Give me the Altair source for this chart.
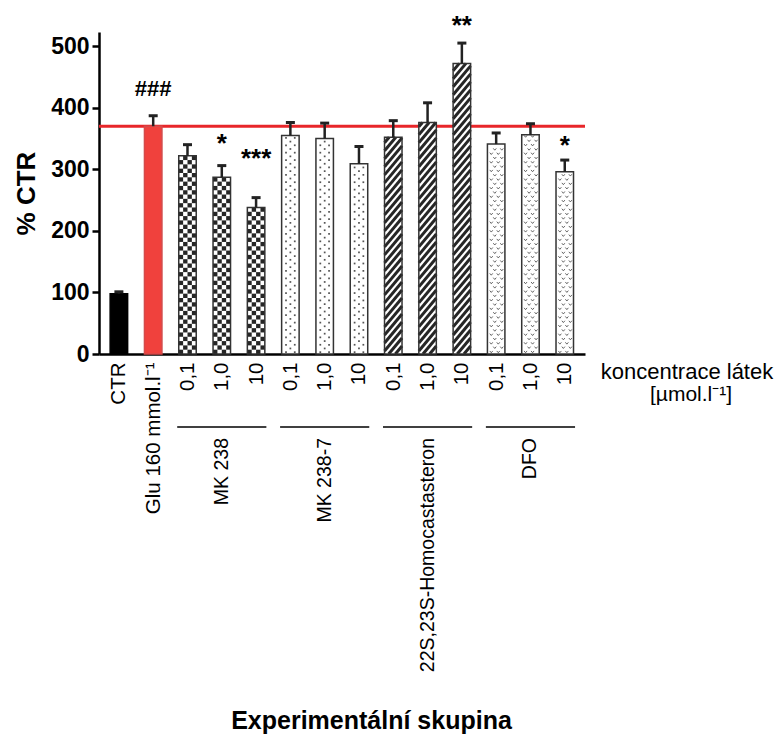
import altair as alt
import pandas as pd
import numpy as np

# ---------------- data ----------------
positions = list(range(14))
tick_labels = ["CTR", "Glu 160 mmol.l⁻¹", "0,1", "1,0", "10", "0,1", "1,0", "10",
               "0,1", "1,0", "10", "0,1", "1,0", "10"]
means = [98, 370, 322, 287, 238, 355, 350, 309, 352, 376, 472, 341, 356, 296]
sds = [3, 17, 18, 19, 16, 21, 25, 28, 27, 32, 33, 18, 18, 19]
kinds = ["ctr", "glu"] + ["checker"] * 3 + ["dots"] * 3 + ["stripes"] * 3 + ["vees"] * 3

group_names = ["MK 238", "MK 238-7", "22S,23S-Homocastasteron", "DFO"]
group_first = [2, 5, 8, 11]
group_last = [4, 7, 10, 13]

annot_text = ["###", "*", "***", "**", "*"]
annot_pos = [1, 3, 4, 10, 13]
annot_y = [430, 351, 326, 542, 348]

conc_lines = ["koncentrace látek", "[µmol.l⁻¹]"]

reference_value = means[1]
y_ticks = [0, 100, 200, 300, 400, 500]

# ---------------- style constants ----------------
HALF = 0.255
FONT = "Liberation Sans"
W, H = 486, 322
X_DOMAIN = [-0.58, 13.59]
Y_DOMAIN = [0, 523]

bars = pd.DataFrame({"pos": positions, "mean": means, "sd": sds, "kind": kinds, "label": tick_labels})
bars["lo"] = bars["pos"] - HALF
bars["hi"] = bars["pos"] + HALF
bars["top"] = bars["mean"] + bars["sd"]

# pattern decorations derived from the bar values
checker_rows, dot_rows, stripe_rows, vee_rows = [], [], [], []
for p, v, k in zip(positions, means, kinds):
    xl, xr = p - HALF, p + HALF
    w = xr - xl
    if k == "checker":
        ch = 7.0
        nr = int(np.ceil(v / ch))
        for r in range(nr):
            for c in range(4):
                if (r + c) % 2 == 0:
                    checker_rows.append({"x": xl + c * w / 4, "x2": xl + (c + 1) * w / 4,
                                         "y": r * ch, "y2": min((r + 1) * ch, v)})
    elif k == "dots":
        step = 6.0
        r = 0
        yy = step / 2
        while yy < v - 2:
            fr = [0.25, 0.75] if r % 2 == 0 else [0.5]
            for f in fr:
                dot_rows.append({"x": xl + f * w, "y": yy})
            yy += step
            r += 1
    elif k == "stripes":
        P, R = 13.0, 34.0
        y0 = -R
        while y0 < v:
            t0 = max(0.0, -y0 / R)
            t1 = min(1.0, (v - y0) / R)
            if t1 > t0:
                stripe_rows.append({"x": xl + t0 * w, "x2": xl + t1 * w,
                                    "y": y0 + t0 * R, "y2": y0 + t1 * R})
            y0 += P
    elif k == "vees":
        step = 7.0
        r = 0
        yy = step / 2
        while yy < v - 2:
            fr = [0.22, 0.62] if r % 2 == 0 else [0.42, 0.82]
            for f in fr:
                vee_rows.append({"x": xl + f * w, "y": yy})
            yy += step
            r += 1

checker = pd.DataFrame(checker_rows)
dots = pd.DataFrame(dot_rows)
stripes = pd.DataFrame(stripe_rows)
vees = pd.DataFrame(vee_rows)

groups = pd.DataFrame({"name": group_names, "first": group_first, "last": group_last})
groups["start"] = groups["first"] - 0.3
groups["end"] = groups["last"] + 0.3
groups["mid"] = (groups["first"] + groups["last"]) / 2

annots = pd.DataFrame({"text": annot_text, "pos": annot_pos, "y": annot_y})
ref = pd.DataFrame({"val": [reference_value]})

# ---------------- scales & axes ----------------
xscale = alt.Scale(domain=X_DOMAIN, nice=False, zero=False)
yscale = alt.Scale(domain=Y_DOMAIN, nice=False)

label_js = "[" + ",".join("'" + l + "'" for l in tick_labels) + "][datum.value]"
xaxis = alt.Axis(values=positions, labelExpr=label_js, labelAngle=270, labelAlign="right",
                 labelBaseline="middle", labelPadding=8, labelFontSize=20.5, labelFont=FONT,
                 labelColor="black", ticks=False, domainColor="black", domainWidth=2.5,
                 grid=False, labelOverlap=False, labelFlush=False,
                 title="Experimentální skupina", titleFont=FONT, titleFontSize=25,
                 titleFontWeight="bold", titleColor="black", titleX=272, titleY=374,
                 titleAlign="center", titleBaseline="alphabetic")
yaxis = alt.Axis(values=y_ticks, title="% CTR", titleFont=FONT, titleFontSize=26,
                 titleFontWeight="bold", titleColor="black", titlePadding=11,
                 labelFont=FONT, labelFontSize=23, labelFontWeight="bold", labelColor="black",
                 labelPadding=3, tickSize=7, tickWidth=2.5, tickColor="black",
                 domainColor="black", domainWidth=2.5, grid=False)


def X(field):
    return alt.X(field, scale=xscale, axis=xaxis)


def Y(field):
    return alt.Y(field, scale=yscale, axis=yaxis)


refline = alt.Chart(ref).mark_rule(color="#e8262a", strokeWidth=3).encode(
    y=Y("val:Q"),
)

fill_scale = alt.Scale(domain=["ctr", "glu", "checker", "dots", "stripes", "vees"],
                       range=["#000000", "#f0413d", "#ffffff", "#ffffff", "#ffffff", "#ffffff"])

bar_fill = alt.Chart(bars).mark_rect(strokeWidth=0).encode(
    x=X("lo:Q"), x2="hi:Q",
    y=Y("mean:Q"), y2=alt.Y2(datum=0),
    fill=alt.Fill("kind:N", scale=fill_scale, legend=None),
)

checker_layer = alt.Chart(checker).mark_rect(color="#262626", strokeWidth=0).encode(
    x=X("x:Q"), x2="x2:Q",
    y=Y("y:Q"), y2="y2:Q",
)

dots_layer = alt.Chart(dots).mark_square(color="#555555", size=3, opacity=1).encode(
    x=X("x:Q"),
    y=Y("y:Q"),
)

stripes_layer = alt.Chart(stripes).mark_rule(color="#262626", strokeWidth=3).encode(
    x=X("x:Q"), x2="x2:Q",
    y=Y("y:Q"), y2="y2:Q",
)

vees_layer = alt.Chart(vees).mark_point(shape="M-1,-0.6L0,0.6L1,-0.6", filled=False,
                                        color="#555555", size=9, strokeWidth=0.9, opacity=1).encode(
    x=X("x:Q"),
    y=Y("y:Q"),
)

outline_scale = alt.Scale(domain=["ctr", "glu", "checker", "dots", "stripes", "vees"],
                          range=["#000000", "#d44a4a", "#333333", "#333333", "#333333", "#333333"])
bar_outline = alt.Chart(bars).mark_rect(fillOpacity=0, strokeWidth=1.5).encode(
    x=X("lo:Q"), x2="hi:Q",
    y=Y("mean:Q"), y2=alt.Y2(datum=0),
    stroke=alt.Stroke("kind:N", scale=outline_scale, legend=None),
)

err_stem = alt.Chart(bars).mark_rule(color="#222222", strokeWidth=2.5).encode(
    x=X("pos:Q"),
    y=Y("mean:Q"), y2="top:Q",
)
err_cap = alt.Chart(bars).mark_tick(color="#222222", orient="horizontal", size=9,
                                    thickness=3, opacity=1).encode(
    x=X("pos:Q"),
    y=Y("top:Q"),
)

hash_layer = alt.Chart(annots).transform_filter("datum.text == '###'").mark_text(
    font=FONT, fontSize=22, fontWeight="bold", color="black", baseline="middle").encode(
    x=X("pos:Q"),
    y=Y("y:Q"),
    text="text:N",
)
star_layer = alt.Chart(annots).transform_filter("datum.text != '###'").mark_text(
    font=FONT, fontSize=26, fontWeight="bold", color="black", baseline="middle", dy=6).encode(
    x=X("pos:Q"),
    y=Y("y:Q"),
    text="text:N",
)

group_lines = alt.Chart(groups).mark_rule(color="black", strokeWidth=1.5).encode(
    x=X("start:Q"), x2="end:Q",
    y=alt.value(H + 73),
)
group_text = alt.Chart(groups).mark_text(font=FONT, fontSize=19.5, angle=270, align="right",
                                         baseline="middle", color="black").encode(
    x=X("mid:Q"),
    y=alt.value(H + 84),
    text="name:N",
)

conc_df = pd.DataFrame({"t": conc_lines})
conc_text1 = alt.Chart(conc_df).transform_filter(alt.datum.t == conc_lines[0]).mark_text(
    font=FONT, fontSize=22, color="black", align="center", baseline="middle").encode(
    x=alt.value(W + 102), y=alt.value(H + 18), text="t:N")
conc_text2 = alt.Chart(conc_df).transform_filter(alt.datum.t == conc_lines[1]).mark_text(
    font=FONT, fontSize=21, color="black", align="center", baseline="middle").encode(
    x=alt.value(W + 106), y=alt.value(H + 41), text="t:N")

chart = alt.layer(refline, bar_fill, checker_layer, dots_layer, stripes_layer, vees_layer,
                  bar_outline, err_stem, err_cap, hash_layer, star_layer, group_lines, group_text,
                  conc_text1, conc_text2).properties(
    width=W, height=H,
    background="white",
    autosize=alt.AutoSizeParams(type="none"),
    padding={"left": 99, "top": 32, "right": 776 - 99 - W, "bottom": 736 - 32 - H},
).configure_view(stroke=None)

chart.save("out.html", embed_options={"renderer": "svg", "actions": False})
